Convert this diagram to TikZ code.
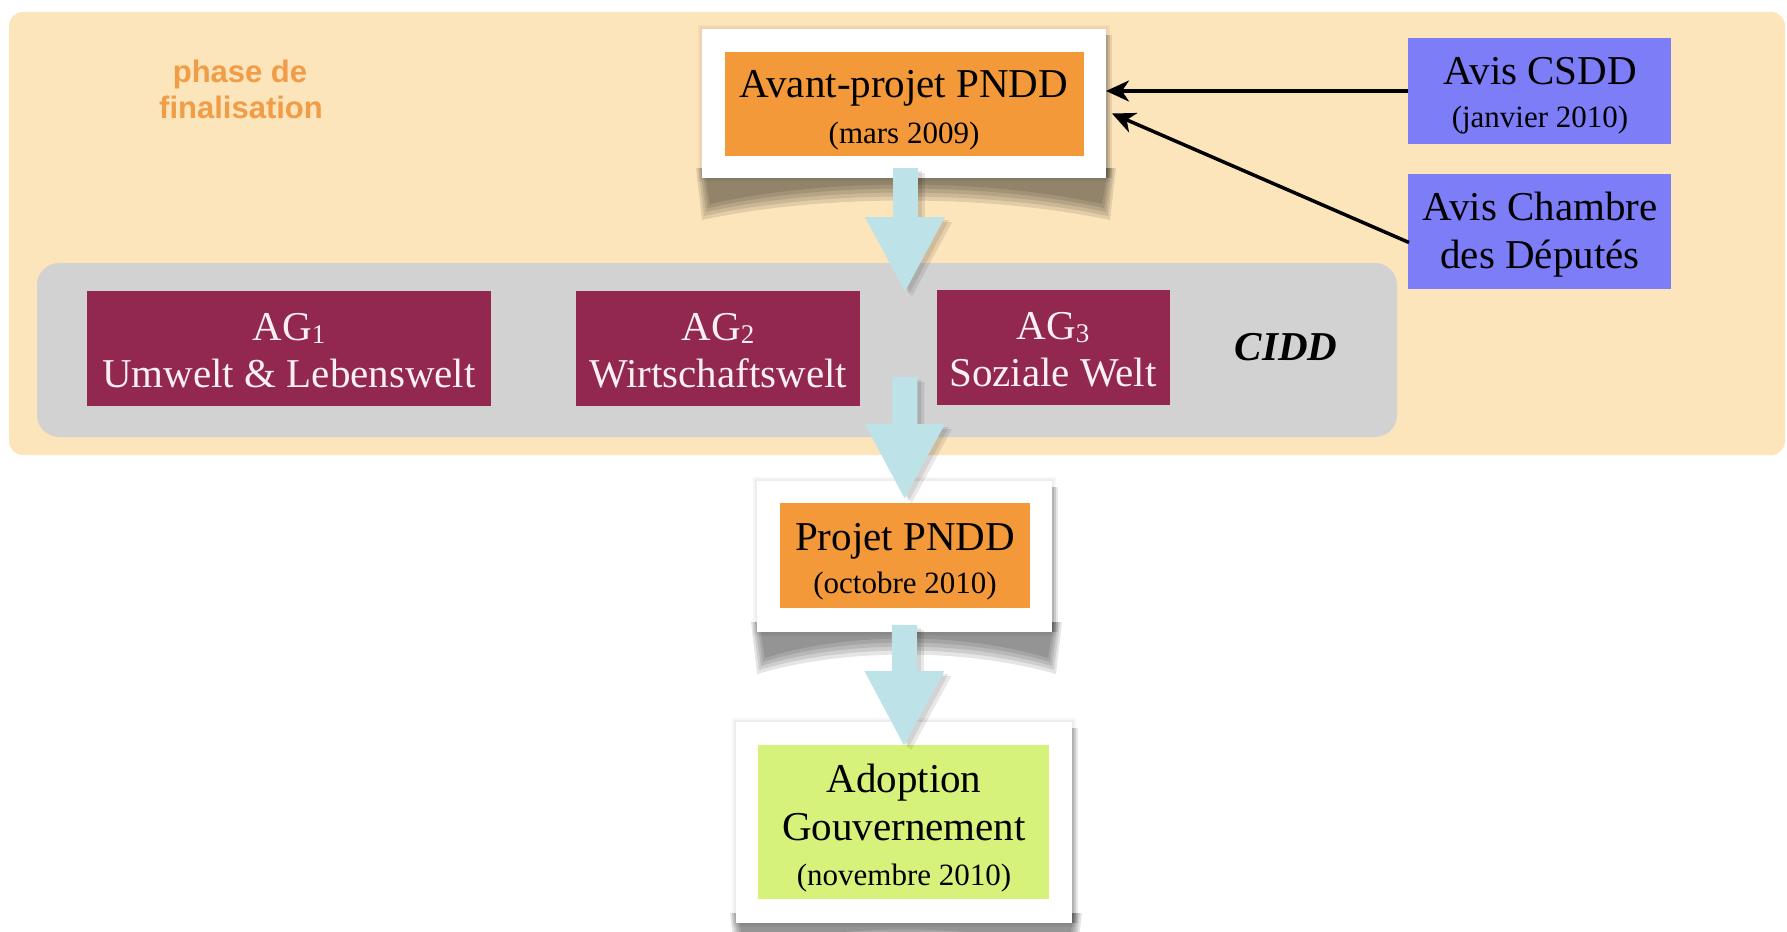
\documentclass[tikz,border=0pt]{standalone}
\usepackage{fontspec}
\setmainfont{Liberation Serif}
\newfontfamily\phasefont{Liberation Sans}
\usetikzlibrary{arrows.meta,calc}
\definecolor{peach}{HTML}{FCE4BB}
\definecolor{panelgray}{HTML}{D2D2D2}
\definecolor{orangebox}{HTML}{F3993A}
\definecolor{maroon}{HTML}{922750}
\definecolor{bluebox}{HTML}{7D7DF7}
\definecolor{greenbox}{HTML}{D6F27B}
\definecolor{fatcyan}{HTML}{BDE3E9}
\definecolor{phaseorange}{HTML}{F19C47}
\definecolor{agtext}{HTML}{FAF0F2}
\newcommand{\boxshadow}[4]{%
  \foreach \e in {4,2}{
    \fill[black,opacity=0.035] (#1-\e,#2-\e) rectangle (#3+\e,#4+\e);
  }
  \foreach \e in {16,12,8,4,0}{
    \fill[black,opacity=0.1] (#1+2-\e*0.5,#4-10) -- (#1+8-\e*0.5,#4+26+\e)
      .. controls (#1*0.7+#3*0.3,#4+\e) and (#1*0.3+#3*0.7,#4+\e) ..
      (#3-4+\e*0.5,#4+26+\e) -- (#3+2+\e*0.5,#4-10) -- cycle;
  }
  \foreach \e in {6,4,2}{
    \fill[black,opacity=0.09] (#3-2,#2+6) rectangle (#3+\e,#4);
  }
}
\newcommand{\sub}[1]{\raisebox{-0.08em}{\fontsize{27}{27}\selectfont #1}}
\begin{document}
\begin{tikzpicture}[x=1pt,y=-1pt,
  box/.style={inner sep=0pt, outer sep=0pt, anchor=north west},
  txt/.style={anchor=base, inner sep=0pt, outer sep=0pt},
  big/.style={font=\fontsize{41}{47}\selectfont},
  small/.style={font=\fontsize{31}{36}\selectfont},
  agt/.style={txt, big, text=agtext},
  phasetxt/.style={txt, text=phaseorange, font=\phasefont\bfseries\fontsize{31}{36}\selectfont},
  fat/.style={line width=25pt, draw=fatcyan, -{Triangle[length=76pt,width=74pt]}},
  fatshadow/.style={line width=25pt, draw=black, opacity=0.09, -{Triangle[length=76pt,width=74pt]}},
  thin/.style={line width=3.5pt, draw=black, -{Stealth[length=23pt,width=21pt,inset=7pt]}}
]
\useasboundingbox (0,0) rectangle (1787,931);
\fill[white] (0,0) rectangle (1787,931);

% background panels
\node[box, fill=peach, rounded corners=14pt, minimum width=1776pt, minimum height=443pt] (phase) at (9,12) {};
\node[box, fill=panelgray, rounded corners=22pt, minimum width=1360pt, minimum height=174pt] (cidd) at (37,263) {};

\node[phasetxt] (ph1) at (240,83) {phase de};
\node[phasetxt] (ph2) at (241,118) {finalisation};

% shadows of white frames
\boxshadow{702}{29}{1106}{178}
\boxshadow{757}{481}{1052}{632}
\boxshadow{736}{722}{1072}{923}

% Avant-projet
\node[box, fill=white, minimum width=404pt, minimum height=149pt] (avw) at (702,29) {};
\node[box, fill=orangebox, minimum width=359pt, minimum height=104pt] (av) at (725,52) {};
\node[txt, big] (av1) at (904,98) {Avant-projet PNDD};
\node[txt, small] (av2) at (904,143) {(mars 2009)};

% Avis boxes
\node[box, fill=bluebox, minimum width=263pt, minimum height=106pt] (csdd) at (1408,38) {};
\node[txt, big] (cs1) at (1540,85) {Avis CSDD};
\node[txt, small] (cs2) at (1540,128) {(janvier 2010)};
\node[box, fill=bluebox, minimum width=263pt, minimum height=115pt] (chambre) at (1408,174) {};
\node[txt, big] (ch1) at (1540,220) {Avis Chambre};
\node[txt, big] (ch2) at (1540,268) {des Députés};

% AG boxes
\node[box, fill=maroon, minimum width=404pt, minimum height=115pt] (ag1) at (87,291) {};
\node[agt] (ag1a) at (289,340) {AG\sub{1}};
\node[agt] (ag1b) at (289,387) {Umwelt \& Lebenswelt};
\node[box, fill=maroon, minimum width=284pt, minimum height=115pt] (ag2) at (576,291) {};
\node[agt] (ag2a) at (718,340) {AG\sub{2}};
\node[agt] (ag2b) at (718,387) {Wirtschaftswelt};
\node[box, fill=maroon, minimum width=233pt, minimum height=115pt] (ag3) at (937,290) {};
\node[agt] (ag3a) at (1053,339) {AG\sub{3}};
\node[agt] (ag3b) at (1053,386) {Soziale Welt};
\node[txt, big, font=\fontsize{41}{47}\selectfont\bfseries\itshape] (ciddlbl) at (1286,360) {CIDD};

% Projet
\node[box, fill=white, minimum width=295pt, minimum height=151pt] (prw) at (757,481) {};
\node[box, fill=orangebox, minimum width=250pt, minimum height=105pt] (pr) at (780,503) {};
\node[txt, big] (pr1) at (905,550) {Projet PNDD};
\node[txt, small] (pr2) at (905,593) {(octobre 2010)};

% Adoption
\node[box, fill=white, minimum width=336pt, minimum height=201pt] (adw) at (736,722) {};
\node[box, fill=greenbox, minimum width=291pt, minimum height=154pt] (ad) at (758,745) {};
\node[txt, big] (ad1) at (904,792) {Adoption};
\node[txt, big] (ad2) at (904,840) {Gouvernement};
\node[txt, small] (ad3) at (904,885) {(novembre 2010)};

% fat arrows
\coordinate (a1s) at ($(avw.south)+(1,-10)$);
\coordinate (a1t) at (905,293);
\coordinate (a2s) at (905,377);
\coordinate (a2t) at ($(prw.north)+(0,19)$);
\coordinate (a3s) at ($(prw.south)+(0,-7)$);
\coordinate (a3t) at ($(adw.north)+(0,25)$);
\foreach \s/\t in {a1s/a1t, a2s/a2t, a3s/a3t}{
  \draw[fatshadow] ([xshift=7pt,yshift=-5pt]\s) -- ([xshift=7pt,yshift=-5pt]\t);
  \draw[fatshadow] ([xshift=4pt,yshift=-3pt]\s) -- ([xshift=4pt,yshift=-3pt]\t);
  \draw[fat] (\s) -- (\t);
}

% thin arrows
\draw[thin] (csdd.west) -- (csdd.west -| avw.east);
\coordinate (chs) at ($(chambre.west)+(1,11)$);
\coordinate (cht) at ($(avw.east)+(6,10)$);
\draw[thin] (chs) -- (cht);
\end{tikzpicture}
\end{document}
